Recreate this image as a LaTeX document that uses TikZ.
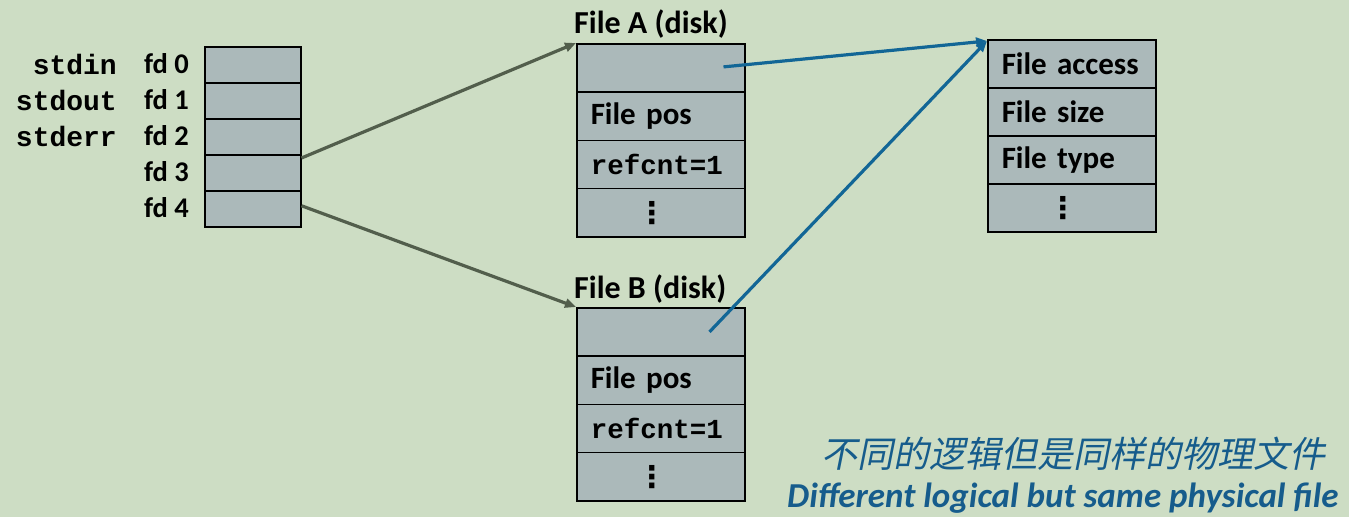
\documentclass[tikz,border=0pt]{standalone}
\usepackage{fontspec}
\setmainfont{Carlito}
\newfontfamily\monof{Liberation Mono}
\newfontfamily\cjkf[FakeSlant=0.2]{Noto Sans CJK SC}
\newfontfamily\dotf{DejaVu Sans}
\usetikzlibrary{arrows.meta,calc}
\definecolor{bgc}{RGB}{205,221,196}
\definecolor{cellc}{RGB}{171,185,186}
\definecolor{grayarr}{RGB}{82,94,76}
\definecolor{bluearr}{RGB}{18,102,150}
\definecolor{bluetxt}{RGB}{22,92,140}
\tikzset{
  cell/.style={draw=black, line width=1.5pt, fill=cellc, rectangle, inner sep=0pt, anchor=north west},
  fdcell/.style={cell, minimum width=96pt, minimum height=36pt},
  filecell/.style={cell, minimum width=168pt, minimum height=48.3pt, text width=140pt, align=left, font=\fontsize{31}{33}\selectfont\bfseries},
  dotcell/.style={cell, minimum width=168pt, minimum height=48.3pt, font=\dotf\fontsize{30}{32}\selectfont\bfseries},
  monocell/.style={filecell, font=\monof\fontsize{27.5}{29}\selectfont\bfseries},
  fdlab/.style={anchor=east, inner sep=0pt, font=\fontsize{28.5}{30}\selectfont\bfseries},
  stdlab/.style={anchor=east, inner sep=0pt, font=\monof\fontsize{28}{30}\selectfont\bfseries},
  title/.style={anchor=base west, inner sep=0pt, font=\fontsize{32}{34}\selectfont\bfseries},
  garrow/.style={draw=grayarr, line width=3.2pt, -{Triangle[length=11pt,width=9pt]}},
  barrow/.style={draw=bluearr, line width=3.2pt, -{Triangle[length=11pt,width=9pt]}},
}
\begin{document}
\begin{tikzpicture}[x=1pt,y=-1pt]
\fill[bgc] (0,0) rectangle (1349,517);
\useasboundingbox (0,0) rectangle (1349,517);
% fd table
\foreach \i in {0,...,4} {
  \node[fdcell] (fd\i) at (204,{46+36*\i}) {};
  \node[fdlab] (fdl\i) at (189,{64+36*\i}) {fd \i};
}
\node[stdlab] (sin) at (117,64) {stdin};
\node[stdlab] (sout) at (117,100) {stdout};
\node[stdlab] (serr) at (117,136) {stderr};
% File A
\node[title] (ta) at (574,33) {File A (disk)};
\node[filecell] (A1) at (576,43) {};
\node[filecell] (A2) at (576,91.3) {File pos};
\node[monocell] (A3) at (576,139.6) {refcnt=1};
\node[dotcell] (A4) at (576,187.9) {⋮\kern18pt};
% File B
\node[title] (tb) at (574,298) {File B (disk)};
\node[filecell] (B1) at (576,307) {};
\node[filecell] (B2) at (576,355.3) {File pos};
\node[monocell] (B3) at (576,403.6) {refcnt=1};
\node[dotcell] (B4) at (576,451.9) {⋮\kern18pt};
% v-node table
\node[filecell, minimum height=48pt] (R1) at (987,39) {File access};
\node[filecell, minimum height=48pt] (R2) at (987,87) {File size};
\node[filecell, minimum height=48pt] (R3) at (987,135) {File type};
\node[dotcell, minimum height=48pt] (R4) at (987,183) {⋮\kern18pt};
% arrows
\draw[garrow] ([yshift=-4pt]fd3.north east) -- (A1.north west);
\draw[garrow] ([yshift=3pt]fd4.east) -- (B1.north west);
\draw[barrow] ([xshift=-22pt,yshift=1pt]A1.east) -- ([yshift=-2pt]R1.north west);
\draw[barrow] ([xshift=-36pt]B1.east) -- ([yshift=-2pt]R1.north west);
% caption
\node[anchor=base, inner sep=0pt, text=bluetxt, font=\cjkf\fontsize{36}{38}\selectfont] (cn) at (1073,467) {不同的逻辑但是同样的物理文件};
\node[anchor=base west, inner sep=0pt, text=bluetxt, font=\fontsize{35}{37}\selectfont\bfseries\itshape] (en) at (787,507) {Different logical but same physical file};
\end{tikzpicture}
\end{document}
